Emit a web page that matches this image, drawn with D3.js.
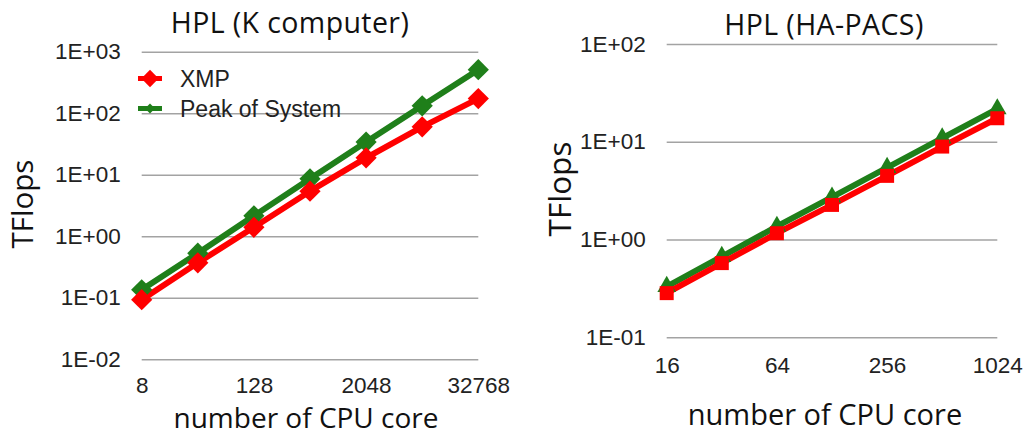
<!DOCTYPE html>
<html>
<head>
<meta charset="utf-8">
<script src="https://cdn.jsdelivr.net/npm/d3@7"></script>
<style>
  body { margin: 0; background: #fff; }
  svg { display: block; }
  .grid line { stroke: #a3a3a3; stroke-width: 1.5; }
  .tick text { font-family: "Liberation Sans", Arial, sans-serif; font-size: 22.5px; fill: #222; }
  .title, .axis-title { font-family: "Open Sans", sans-serif; fill: #111; }
  .legend text { font-family: "Liberation Sans", Arial, sans-serif; font-size: 23px; fill: #222; }
</style>
</head>
<body>
<div id="chart"></div>
<script>
// K computer
const kCores = [8, 32, 128, 512, 2048, 8192, 32768];
const kXmp = [0.093, 0.37, 1.4, 5.4, 18.8, 60, 173];
const kPeak = [0.135, 0.53, 2.15, 8.6, 34, 132, 510];
const kXTicks = [8, 128, 2048, 32768];
const kYTicks = [0.01, 0.1, 1, 10, 100, 1000];

// HA-PACS
const hCores = [16, 32, 64, 128, 256, 512, 1024];
const hXmp = [0.283, 0.574, 1.16, 2.26, 4.48, 8.93, 17.4];
const hPeak = [0.33, 0.67, 1.36, 2.71, 5.45, 10.9, 21.7];
const hXTicks = [16, 64, 256, 1024];
const hYTicks = [0.1, 1, 10, 100];

const seriesNames = ["XMP", "Peak of System"];
const red = "#ff0000";
const green = "#1f7f1a";

// 1E+03 style labels
const expFormat = (v) => {
  const e = Math.round(Math.log10(v));
  return "1E" + (e < 0 ? "-" : "+") + String(Math.abs(e)).padStart(2, "0");
};

class LogLineChart {
  constructor(_config) {
    this.config = _config;
    this.initVis();
  }

  initVis() {
    let vis = this;
    const c = vis.config;

    vis.xScale = d3.scaleLog().base(2).domain(d3.extent(c.xTicks)).range(c.xRange);
    vis.yScale = d3.scaleLog().domain(d3.extent(c.yTicks)).range(c.yRange);

    vis.g = c.svg.append("g");

    // horizontal gridlines + y labels
    vis.yAxis = d3.axisLeft(vis.yScale)
      .tickValues(c.yTicks)
      .tickFormat(expFormat)
      .tickSizeInner(-(c.xRange[1] - c.xRange[0]))
      .tickSizeOuter(0)
      .tickPadding(21);
    vis.g.append("g")
      .attr("class", "grid")
      .attr("transform", `translate(${c.xRange[0]},0)`)
      .call(vis.yAxis)
      .call((g) => g.select(".domain").remove());

    vis.xAxis = d3.axisBottom(vis.xScale)
      .tickValues(c.xTicks)
      .tickFormat((d) => d)
      .tickSize(0)
      .tickPadding(c.xPad);
    vis.g.append("g")
      .attr("transform", `translate(0,${c.yRange[0]})`)
      .call(vis.xAxis)
      .call((g) => g.select(".domain").remove());

    vis.g.append("text")
      .attr("class", "title")
      .attr("x", c.titlePos[0])
      .attr("y", c.titlePos[1])
      .attr("text-anchor", "middle")
      .style("font-size", "28.5px")
      .style("letter-spacing", "0.4px")
      .text(c.title);

    vis.g.append("text")
      .attr("class", "axis-title")
      .attr("x", c.xTitlePos[0])
      .attr("y", c.xTitlePos[1])
      .attr("text-anchor", "middle")
      .style("font-size", c.xTitleSize + "px")
      .text("number of CPU core");

    vis.g.append("text")
      .attr("class", "axis-title")
      .attr("transform", `translate(${c.yTitlePos[0]},${c.yTitlePos[1]}) rotate(-90)`)
      .attr("text-anchor", "middle")
      .style("font-size", c.yTitleSize + "px")
      .text("TFlops");

    vis.renderVis();
  }

  renderVis() {
    let vis = this;
    const c = vis.config;

    const line = d3.line()
      .x((d) => vis.xScale(d[0]))
      .y((d) => vis.yScale(d[1]));

    c.series.forEach((s) => {
      const pts = c.cores.map((x, i) => [x, s.values[i]]);
      vis.g.append("path")
        .attr("d", line(pts))
        .attr("fill", "none")
        .attr("stroke", s.color)
        .attr("stroke-width", 6)
        .attr("stroke-linejoin", "round");
    });

    // markers drawn after both lines
    c.series.forEach((s) => {
      const pts = c.cores.map((x, i) => [x, s.values[i]]);
      vis.g.append("g")
        .selectAll("path")
        .data(pts)
        .join("path")
        .attr("d", d3.symbol().type(s.symbol).size(s.size))
        .attr("fill", s.color)
        .attr("transform", (d) =>
          `translate(${vis.xScale(d[0])},${vis.yScale(d[1])}) rotate(${s.rotate || 0})`);
    });
  }
}

const width = 1027, height = 436;
const svg = d3.select("#chart").append("svg").attr("width", width).attr("height", height);

new LogLineChart({
  svg: svg,
  title: "HPL (K computer)",
  cores: kCores,
  xTicks: kXTicks,
  yTicks: kYTicks,
  xRange: [141.7, 478.3],
  yRange: [359.3, 51.7],
  xPad: 18,
  titlePos: [290, 33],
  xTitlePos: [306, 428],
  xTitleSize: 28,
  yTitlePos: [33, 204],
  yTitleSize: 29.5,
  series: [
    { values: kPeak, color: green, symbol: d3.symbolSquare, size: 225, rotate: 45 },
    { values: kXmp, color: red, symbol: d3.symbolSquare, size: 225, rotate: 45 },
  ],
});

new LogLineChart({
  svg: svg,
  title: "HPL (HA-PACS)",
  cores: hCores,
  xTicks: hXTicks,
  yTicks: hYTicks,
  xRange: [666.7, 997.3],
  yRange: [337.3, 44],
  xPad: 20,
  titlePos: [824, 35],
  xTitlePos: [825, 425],
  xTitleSize: 29,
  yTitlePos: [571, 189],
  yTitleSize: 31.5,
  series: [
    { values: hPeak, color: green, symbol: d3.symbolTriangle, size: 150 },
    { values: hXmp, color: red, symbol: d3.symbolSquare, size: 196 },
  ],
});

// legend for the K computer panel
const legend = svg.append("g").attr("class", "legend");
const legendRows = [
  { name: seriesNames[0], color: red, size: 150, y: 78.5 },
  { name: seriesNames[1], color: green, size: 50, y: 108.5 },
];
legendRows.forEach((r) => {
  legend.append("line")
    .attr("x1", 138).attr("x2", 162)
    .attr("y1", r.y).attr("y2", r.y)
    .attr("stroke", r.color).attr("stroke-width", 5);
  legend.append("path")
    .attr("d", d3.symbol().type(d3.symbolSquare).size(r.size))
    .attr("fill", r.color)
    .attr("transform", `translate(150,${r.y}) rotate(45)`);
  legend.append("text")
    .attr("x", 180)
    .attr("y", r.y + 8)
    .text(r.name);
});
</script>
</body>
</html>
